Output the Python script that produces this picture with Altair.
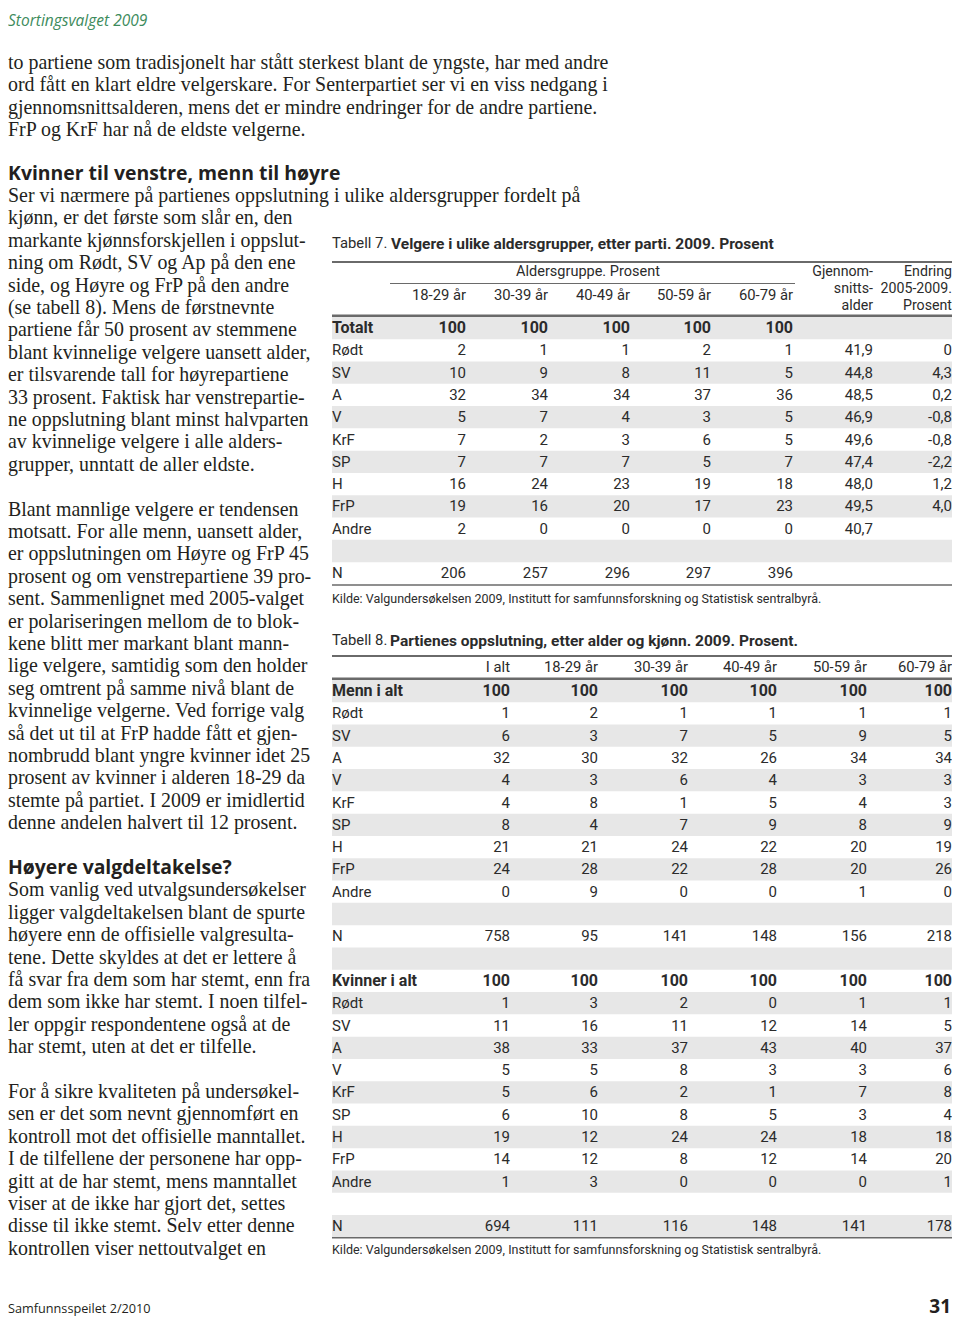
import altair as alt
import pandas as pd

# ---------------- text content ----------------
header_text = ["Stortingsvalget 2009"]
intro_lines = [
    "to partiene som tradisjonelt har stått sterkest blant de yngste, har med andre",
    "ord fått en klart eldre velgerskare. For Senterpartiet ser vi en viss nedgang i",
    "gjennomsnittsalderen, mens det er mindre endringer for de andre partiene.",
    "FrP og KrF har nå de eldste velgerne.",
]
headings = ["Kvinner til venstre, menn til høyre", "Høyere valgdeltakelse?"]
heading_line = [-1, 30]
body_lines = [
    "Ser vi nærmere på partienes oppslutning i ulike aldersgrupper fordelt på",
    "kjønn, er det første som slår en, den",
    "markante kjønnsforskjellen i oppslut-",
    "ning om Rødt, SV og Ap på den ene",
    "side, og Høyre og FrP på den andre",
    "(se tabell 8). Mens de førstnevnte",
    "partiene får 50 prosent av stemmene",
    "blant kvinnelige velgere uansett alder,",
    "er tilsvarende tall for høyrepartiene",
    "33 prosent. Faktisk har venstrepartie-",
    "ne oppslutning blant minst halvparten",
    "av kvinnelige velgere i alle alders-",
    "grupper, unntatt de aller eldste.",
    "",
    "Blant mannlige velgere er tendensen",
    "motsatt. For alle menn, uansett alder,",
    "er oppslutningen om Høyre og FrP 45",
    "prosent og om venstrepartiene 39 pro-",
    "sent. Sammenlignet med 2005-valget",
    "er polariseringen mellom de to blok-",
    "kene blitt mer markant blant mann-",
    "lige velgere, samtidig som den holder",
    "seg omtrent på samme nivå blant de",
    "kvinnelige velgerne. Ved forrige valg",
    "så det ut til at FrP hadde fått et gjen-",
    "nombrudd blant yngre kvinner idet 25",
    "prosent av kvinner i alderen 18-29 da",
    "stemte på partiet. I 2009 er imidlertid",
    "denne andelen halvert til 12 prosent.",
    "",
    "",
    "Som vanlig ved utvalgsundersøkelser",
    "ligger valgdeltakelsen blant de spurte",
    "høyere enn de offisielle valgresulta-",
    "tene. Dette skyldes at det er lettere å",
    "få svar fra dem som har stemt, enn fra",
    "dem som ikke har stemt. I noen tilfel-",
    "ler oppgir respondentene også at de",
    "har stemt, uten at det er tilfelle.",
    "",
    "For å sikre kvaliteten på undersøkel-",
    "sen er det som nevnt gjennomført en",
    "kontroll mot det offisielle manntallet.",
    "I de tilfellene der personene har opp-",
    "gitt at de har stemt, mens manntallet",
    "viser at de ikke har gjort det, settes",
    "disse til ikke stemt. Selv etter denne",
    "kontrollen viser nettoutvalget en",
]
footer_text = ["Samfunnsspeilet 2/2010"]
page_number = ["31"]

kilde = "Kilde: Valgundersøkelsen 2009, Institutt for samfunnsforskning og Statistisk sentralbyrå."

# ---------------- table 7 ----------------
t7_title = ["Tabell 7.", "Velgere i ulike aldersgrupper, etter parti. 2009. Prosent"]
t7_group = "Aldersgruppe. Prosent"
t7_ages = ["18-29 år", "30-39 år", "40-49 år", "50-59 år", "60-79 år"]
t7_snitt_head = ["Gjennom-", "snitts-", "alder"]
t7_endr_head = ["Endring", "2005-2009.", "Prosent"]
parties = ["Rødt", "SV", "A", "V", "KrF", "SP", "H", "FrP", "Andre"]
t7_totalt = [100, 100, 100, 100, 100]
t7_18_29 = [2, 10, 32, 5, 7, 7, 16, 19, 2]
t7_30_39 = [1, 9, 34, 7, 2, 7, 24, 16, 0]
t7_40_49 = [1, 8, 34, 4, 3, 7, 23, 20, 0]
t7_50_59 = [2, 11, 37, 3, 6, 5, 19, 17, 0]
t7_60_79 = [1, 5, 36, 5, 5, 7, 18, 23, 0]
t7_snittalder = [41.9, 44.8, 48.5, 46.9, 49.6, 47.4, 48.0, 49.5, 40.7]
t7_endring = [0, 4.3, 0.2, -0.8, -0.8, -2.2, 1.2, 4.0, None]
t7_n = [206, 257, 296, 297, 396]

# ---------------- table 8 ----------------
t8_title = ["Tabell 8.", "Partienes oppslutning, etter alder og kjønn. 2009. Prosent."]
t8_cols = ["I alt", "18-29 år", "30-39 år", "40-49 år", "50-59 år", "60-79 år"]
t8_total = [100, 100, 100, 100, 100, 100]
t8m_ialt = [1, 6, 32, 4, 4, 8, 21, 24, 0]
t8m_18_29 = [2, 3, 30, 3, 8, 4, 21, 28, 9]
t8m_30_39 = [1, 7, 32, 6, 1, 7, 24, 22, 0]
t8m_40_49 = [1, 5, 26, 4, 5, 9, 22, 28, 0]
t8m_50_59 = [1, 9, 34, 3, 4, 8, 20, 20, 1]
t8m_60_79 = [1, 5, 34, 3, 3, 9, 19, 26, 0]
t8m_n = [758, 95, 141, 148, 156, 218]
t8k_ialt = [1, 11, 38, 5, 5, 6, 19, 14, 1]
t8k_18_29 = [3, 16, 33, 5, 6, 10, 12, 12, 3]
t8k_30_39 = [2, 11, 37, 8, 2, 8, 24, 8, 0]
t8k_40_49 = [0, 12, 43, 3, 1, 5, 24, 12, 0]
t8k_50_59 = [1, 14, 40, 3, 7, 3, 18, 14, 0]
t8k_60_79 = [1, 5, 37, 6, 8, 4, 18, 20, 1]
t8k_n = [694, 111, 116, 148, 141, 178]

# ---------------- layout (page pixels) ----------------
W, H = 944, 1313
LEFT = 8
BODY_Y0, BODY_PITCH = 196, 22.4
INTRO_Y0 = 63
T_LEFT, T_RIGHT = 332, 952
T7_Y0, PITCH = 328, 22.3
T7_RIGHTS = [466, 548, 630, 711, 793, 873, 952]
T8_Y0 = 691
T8_RIGHTS = [510, 598, 688, 777, 867, 952]

SERIF = "Liberation Serif"
SANS = "Open Sans"
TSANS = "Roboto"
INK = "#231f20"
TINK = "#2b2b2b"
BAND = "#e7e7e7"
RULE = "#6a6a6a"

# page coordinates mapped onto the drawable area (page margin 8px)
xs = alt.Scale(domain=[8, 8 + W], range=[0, W], nice=False, zero=False)
ys = alt.Scale(domain=[8, 8 + H], range=[0, H], nice=False, zero=False)
X = alt.X("x:Q", scale=xs, axis=None)
Y = alt.Y("y:Q", scale=ys, axis=None)


def fmt_dec(v):
    if v is None:
        return ""
    if v == 0:
        return "0"
    return f"{v:.1f}".replace(".", ",")


def text_layer(rows, font, size, weight="normal", style="normal", align="left", color=INK):
    df = pd.DataFrame(rows, columns=["x", "y", "text"])
    df = df[df["text"] != ""]
    return alt.Chart(df).mark_text(
        font=font, fontSize=size, fontWeight=weight, fontStyle=style,
        align=align, baseline="middle", color=color,
    ).encode(x=X, y=Y, text="text:N")


layers = []

# grey row bands
bands = []
for i in range(12):
    if i % 2 == 0:
        yc = T7_Y0 + i * PITCH
        bands.append((T_LEFT, T_RIGHT, yc - PITCH / 2, yc + PITCH / 2))
for i in range(25):
    if i % 2 == 0:
        yc = T8_Y0 + i * PITCH
        bands.append((T_LEFT, T_RIGHT, yc - PITCH / 2, yc + PITCH / 2))
band_df = pd.DataFrame(bands, columns=["x", "x2", "y", "y2"])
layers.append(alt.Chart(band_df).mark_rect(color=BAND).encode(x=X, x2="x2:Q", y=Y, y2="y2:Q"))

# rules
rules = [
    (T_LEFT, T_RIGHT, 262, 2.0),
    (390, 795, 283.5, 1.0),
    (T_LEFT, T_RIGHT, T7_Y0 - PITCH / 2 - 1, 2.5),
    (T_LEFT, T_RIGHT, T7_Y0 + 11 * PITCH + PITCH / 2 + 0.5, 1.5),
    (T_LEFT, T_RIGHT, 656, 2.0),
    (T_LEFT, T_RIGHT, T8_Y0 - PITCH / 2 - 1, 2.5),
    (T_LEFT, T_RIGHT, T8_Y0 + 24 * PITCH + PITCH / 2 + 0.5, 1.5),
]
rule_df = pd.DataFrame(rules, columns=["x", "x2", "y", "w"])
layers.append(
    alt.Chart(rule_df).mark_rule(color=RULE).encode(
        x=X, x2="x2:Q", y=Y, strokeWidth=alt.StrokeWidth("w:Q", scale=None)
    )
)

# page header / footer
layers.append(text_layer([(LEFT, 21, header_text[0])], SANS, 15.5, style="italic", color="#3d8b5c"))
layers.append(text_layer([(LEFT, 1309, footer_text[0])], SANS, 12.7, color=INK))
layers.append(text_layer([(951, 1307, page_number[0])], SANS, 19, weight="bold", align="right", color=INK))

# body text
rows = [(LEFT, INTRO_Y0 + i * BODY_PITCH, s) for i, s in enumerate(intro_lines)]
rows += [(LEFT, BODY_Y0 + i * BODY_PITCH, s) for i, s in enumerate(body_lines)]
layers.append(text_layer(rows, SERIF, 19.9, color=INK))
rows = [(LEFT, BODY_Y0 + k * BODY_PITCH, s) for k, s in zip(heading_line, headings)]
layers.append(text_layer(rows, SANS, 19.4, weight="bold", color=INK))

# table titles and sources
layers.append(text_layer([(T_LEFT, 244, t7_title[0]), (T_LEFT, 641, t8_title[0])], TSANS, 14.8, color=TINK))
layers.append(text_layer([(391, 244, t7_title[1]), (390, 641, t8_title[1])], TSANS, 15.5, weight="bold", color=TINK))
layers.append(text_layer([(T_LEFT, 599, kilde), (T_LEFT, 1250, kilde)], TSANS, 12.5, color=TINK))

# table 7 header
layers.append(text_layer([(588, 272, t7_group)], TSANS, 14.5, align="center", color=TINK))
layers.append(text_layer([(T7_RIGHTS[j], 296, a) for j, a in enumerate(t7_ages)], TSANS, 14.8, align="right", color=TINK))
rows = [(T7_RIGHTS[5], 272 + k * 17, s) for k, s in enumerate(t7_snitt_head)]
rows += [(T7_RIGHTS[6], 272 + k * 17, s) for k, s in enumerate(t7_endr_head)]
layers.append(text_layer(rows, TSANS, 14.2, align="right", color=TINK))

# table 7 body
t7_cols = [t7_18_29, t7_30_39, t7_40_49, t7_50_59, t7_60_79]
lab_reg, lab_bold, num_reg, num_bold = [], [], [], []
lab_bold.append((T_LEFT, T7_Y0, "Totalt"))
for j, v in enumerate(t7_totalt):
    num_bold.append((T7_RIGHTS[j], T7_Y0, str(v)))
for i, p in enumerate(parties):
    yc = T7_Y0 + (i + 1) * PITCH
    lab_reg.append((T_LEFT, yc, p))
    for j, col in enumerate(t7_cols):
        num_reg.append((T7_RIGHTS[j], yc, str(col[i])))
    num_reg.append((T7_RIGHTS[5], yc, fmt_dec(t7_snittalder[i])))
    num_reg.append((T7_RIGHTS[6], yc, fmt_dec(t7_endring[i])))
yc = T7_Y0 + 11 * PITCH
lab_reg.append((T_LEFT, yc, "N"))
for j, v in enumerate(t7_n):
    num_reg.append((T7_RIGHTS[j], yc, str(v)))

# table 8 header
layers.append(text_layer([(T8_RIGHTS[j], 668, c) for j, c in enumerate(t8_cols)], TSANS, 14.8, align="right", color=TINK))

# table 8 body
blocks = [
    (0, "Menn i alt", [t8m_ialt, t8m_18_29, t8m_30_39, t8m_40_49, t8m_50_59, t8m_60_79], t8m_n),
    (13, "Kvinner i alt", [t8k_ialt, t8k_18_29, t8k_30_39, t8k_40_49, t8k_50_59, t8k_60_79], t8k_n),
]
for start, title, cols, ns in blocks:
    yc = T8_Y0 + start * PITCH
    lab_bold.append((T_LEFT, yc, title))
    for j, v in enumerate(t8_total):
        num_bold.append((T8_RIGHTS[j], yc, str(v)))
    for i, p in enumerate(parties):
        yc = T8_Y0 + (start + 1 + i) * PITCH
        lab_reg.append((T_LEFT, yc, p))
        for j, col in enumerate(cols):
            num_reg.append((T8_RIGHTS[j], yc, str(col[i])))
    yc = T8_Y0 + (start + 11) * PITCH
    lab_reg.append((T_LEFT, yc, "N"))
    for j, v in enumerate(ns):
        num_reg.append((T8_RIGHTS[j], yc, str(v)))

layers.append(text_layer(lab_reg, TSANS, 15, color=TINK))
layers.append(text_layer(lab_bold, TSANS, 16, weight="bold", color=TINK))
layers.append(text_layer(num_reg, TSANS, 15, align="right", color=TINK))
layers.append(text_layer(num_bold, TSANS, 16, weight="bold", align="right", color=TINK))

chart = alt.layer(*layers).properties(
    width=W, height=H, padding=0, background="white",
    autosize=alt.AutoSizeParams(type="none"),
).configure_view(stroke=None)

chart.save("out.html", embed_options={"renderer": "svg", "actions": False})
